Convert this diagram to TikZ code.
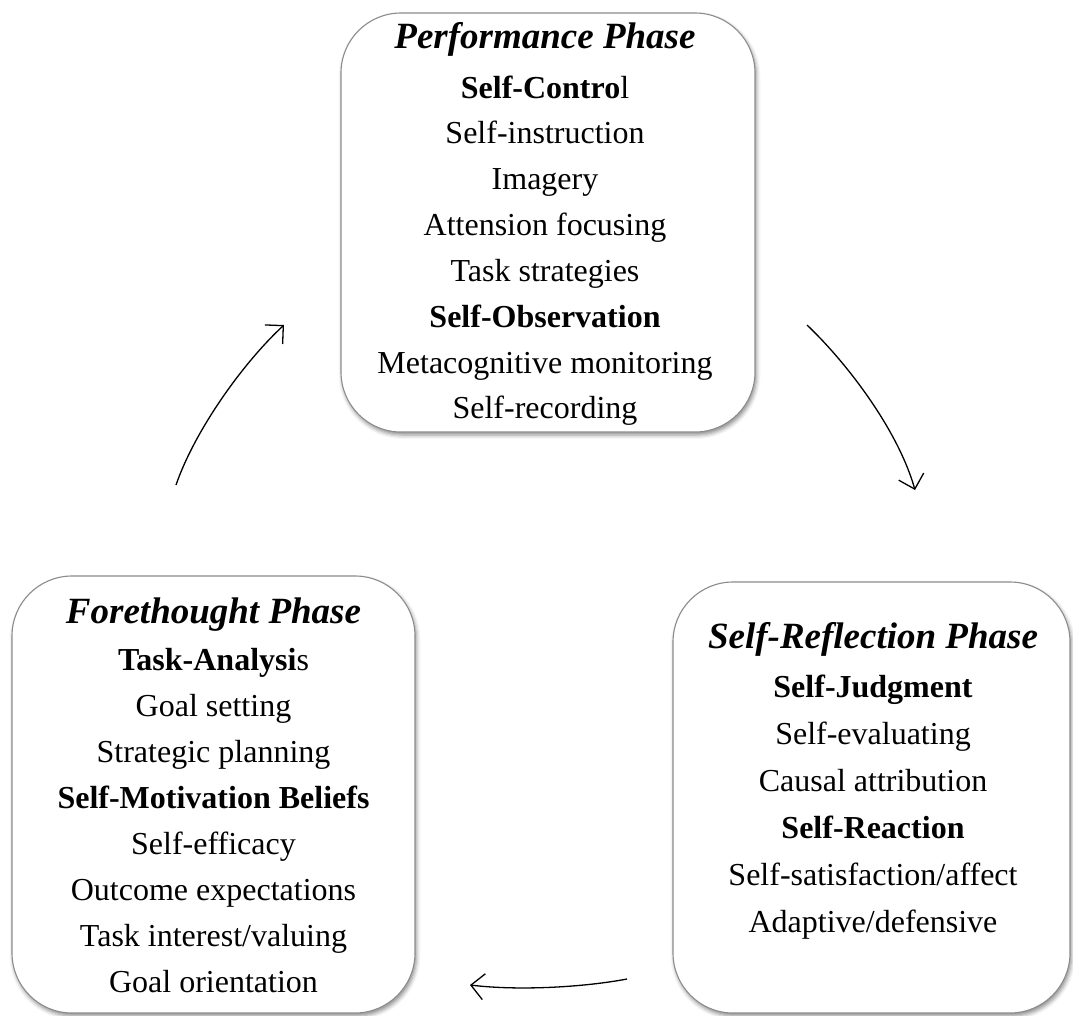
\documentclass[tikz,border=0pt]{standalone}
\usepackage{fontspec}
\setmainfont{Liberation Serif}
\usetikzlibrary{arrows.meta,shadows.blur}
\tikzset{
  phasebox/.style={draw=black!45, line width=1.1pt, fill=white, rounded corners=60pt,
    inner sep=0pt, blur shadow={shadow xshift=1.5pt, shadow yshift=-3pt, shadow blur radius=4pt, shadow opacity=45}},
  ttl/.style={font=\fontsize{37}{44}\selectfont\bfseries\itshape, anchor=base, inner sep=0pt},
  hd/.style={font=\fontsize{32}{38}\selectfont\bfseries, anchor=base, inner sep=0pt},
  itm/.style={font=\fontsize{32}{38}\selectfont, anchor=base, inner sep=0pt},
  cyc/.style={line width=1.3pt, -{Straight Barb[length=13pt,width=26pt,line width=1.3pt]}}
}
\begin{document}
\begin{tikzpicture}[x=1pt,y=-1pt]
\useasboundingbox (0,0) rectangle (1073,1015);
% boxes
\node[phasebox, minimum width=414pt, minimum height=419pt] (perf) at (548,222.5) {};
\node[phasebox, minimum width=403pt, minimum height=437pt] (fore) at (213.5,794.5) {};
\node[phasebox, minimum width=397pt, minimum height=431pt] (refl) at (871.5,797.5) {};
% performance phase
\node[ttl] (p0) at (545,48) {Performance Phase};
\node[hd]  (p1) at (545,98) {\textbf{Self-Contro}\mdseries l};
\node[itm] (p2) at (545,143.5) {Self-instruction};
\node[itm] (p3) at (545,189.5) {Imagery};
\node[itm] (p4) at (545,235) {Attension focusing};
\node[itm] (p5) at (545,281) {Task strategies};
\node[hd]  (p6) at (545,327) {Self-Observation};
\node[itm] (p7) at (545,373) {Metacognitive monitoring};
\node[itm] (p8) at (545,418) {Self-recording};
% forethought phase
\node[ttl] (f0) at (213.5,623) {Forethought Phase};
\node[hd]  (f1) at (213.5,670) {Task-Analysi\mdseries s};
\node[itm] (f2) at (213.5,716) {Goal setting};
\node[itm] (f3) at (213.5,762) {Strategic planning};
\node[hd]  (f4) at (213.5,808) {Self-Motivation Beliefs};
\node[itm] (f5) at (213.5,854) {Self-efficacy};
\node[itm] (f6) at (213.5,900) {Outcome expectations};
\node[itm] (f7) at (213.5,946) {Task interest/valuing};
\node[itm] (f8) at (213.5,992) {Goal orientation};
% self-reflection phase
\node[ttl] (r0) at (873,648) {Self-Reflection Phase};
\node[hd]  (r1) at (873,697) {Self-Judgment};
\node[itm] (r2) at (873,744) {Self-evaluating};
\node[itm] (r3) at (873,791) {Causal attribution};
\node[hd]  (r4) at (873,838) {Self-Reaction};
\node[itm] (r5) at (873,885) {Self-satisfaction/affect};
\node[itm] (r6) at (873,932) {Adaptive/defensive};
% arrows
\coordinate (a1s) at (176,485);
\coordinate (a1e) at (284,325);
\coordinate (a2s) at (807,325);
\coordinate (a2e) at (915,490);
\coordinate (a3s) at (627,979);
\coordinate (a3e) at (470,985);
\draw[cyc] (a1s) .. controls (195,430) and (243,363) .. (a1e);
\draw[cyc] (a2s) .. controls (847,363) and (898,430) .. (a2e);
\draw[cyc] (a3s) .. controls (585,987) and (520,991) .. (a3e);
\end{tikzpicture}
\end{document}
